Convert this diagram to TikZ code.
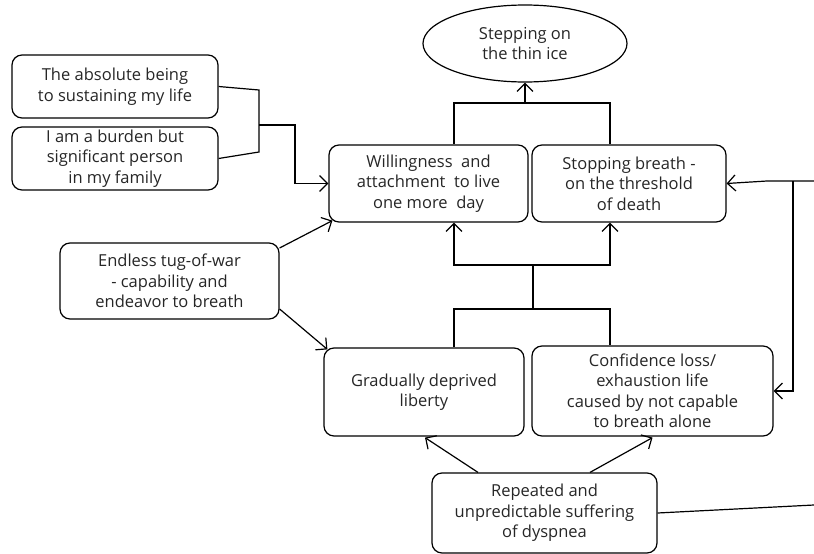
\documentclass[tikz,border=0pt]{standalone}
\usepackage{fontspec}
\setmainfont{Open Sans}
\usetikzlibrary{arrows.meta,shapes.geometric,calc}
\begin{document}
\begin{tikzpicture}[x=1pt,y=-1pt,
  line width=1.2pt,
  every node/.style={font=\fontsize{16.5}{20.5}\selectfont, align=center, inner sep=0pt, text=black!85},
  rbox/.style={draw, rounded corners=10pt, line width=1.2pt},
  arr/.style={-{Straight Barb[length=8pt,width=16pt,line width=1.2pt]}}]
\useasboundingbox (0,0) rectangle (814,554);
% nodes
\node[draw, ellipse, minimum width=204pt, minimum height=77pt] (ell) at (525,43.5) {Stepping on\\the thin ice};
\node[rbox, minimum width=206pt, minimum height=63pt] (boxa) at (115,86.5) {The absolute being\\to sustaining my life};
\node[rbox, minimum width=206pt, minimum height=63pt] (boxb) at (115,158.5) {I am a burden but\\significant person\\in my family};
\node[rbox, minimum width=199pt, minimum height=77pt] (will) at (428.5,183.5) {Willingness~ and\\attachment~ to live\\one more~ day};
\node[rbox, minimum width=194pt, minimum height=77pt] (stop) at (629,183.5) {Stopping breath -\\on the threshold\\of death};
\node[rbox, minimum width=219pt, minimum height=76pt] (endl) at (169.5,281) {Endless tug-of-war\\- capability and\\endeavor to breath};
\node[rbox, minimum width=200pt, minimum height=88pt] (grad) at (424,392) {Gradually deprived\\liberty};
\node[rbox, minimum width=241pt, minimum height=90pt] (conf) at (652.5,391) {Confidence loss/\\exhaustion life\\caused by not capable\\to breath alone};
\node[rbox, minimum width=225pt, minimum height=80pt] (dysp) at (544.5,513) {Repeated and\\unpredictable suffering\\of dyspnea};
% helper coordinates
\coordinate (xa) at (454,0);
\coordinate (xb) at (610,0);
\coordinate (topj) at (525,103);
\coordinate (midj) at (533,309);
\coordinate (upj) at (533,265);
\coordinate (b1) at (259,90);
\coordinate (b2) at (259,152);
\coordinate (bm) at (259,125);
\coordinate (bj) at (295,125);
\coordinate (r1) at (814,181);
\coordinate (r2) at (767,181);
\coordinate (v1) at (793,181);
\coordinate (r3) at (814,505);
% connectors
\draw (will.north -| xa) |- (topj) -| (stop.north -| xb);
\draw[arr] (topj) -- (ell.south);
\draw (grad.north -| xa) |- (midj) -| (conf.north -| xb);
\draw (midj) -- (upj);
\draw[arr] (upj) -| (will.south -| xa);
\draw[arr] (upj) -| (stop.south -| xb);
\draw (boxa.east) -- (b1) -- (b2) -- (boxb.east);
\draw[arr] (bm) -- (bj) |- (will.west);
\draw[arr] ($(endl.east)+(0,-33)$) -- ($(will.south west)+(4,-2)$);
\draw[arr] ($(endl.east)+(0,28)$) -- ($(grad.north west)+(4,2)$);
\draw[arr] ($(dysp.north)+(-66.5,0)$) -- ($(grad.south)+(1,1)$);
\draw[arr] ($(dysp.north)+(45.5,0)$) -- ($(conf.south)+(0,1)$);
\draw[arr] (r1) -- (r2) -- (stop.east);
\draw[arr] (v1) |- (conf.east);
\draw (dysp.east) -- (r3);
\end{tikzpicture}
\end{document}
